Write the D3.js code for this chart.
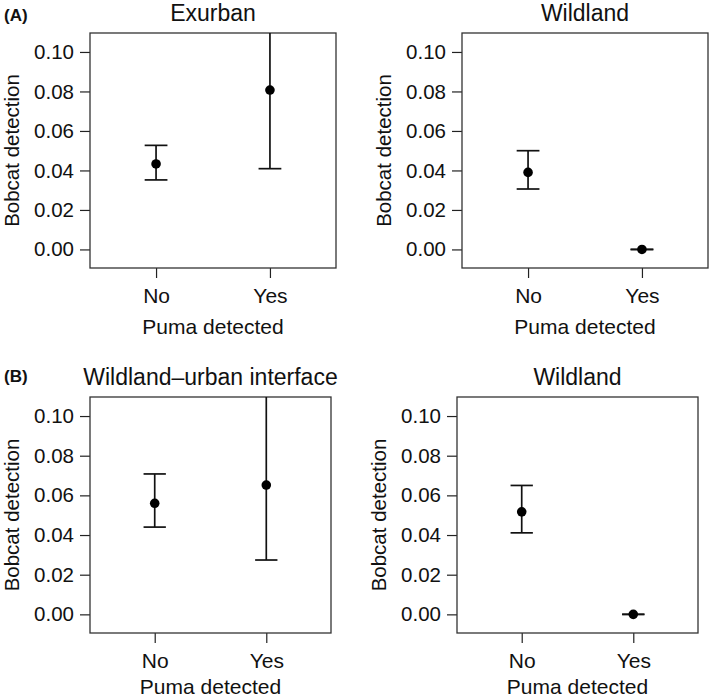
<!DOCTYPE html>
<html>
<head>
<meta charset="utf-8">
<script src="https://cdn.jsdelivr.net/npm/d3@7"></script>
<style>
html,body{margin:0;padding:0;background:#fff;}
svg{display:block;font-family:"Liberation Sans",Arial,Helvetica,sans-serif;}
</style>
</head>
<body>
<div id="chart"></div>
<script>
// ---- data ----
const categories = ["No", "Yes"];
const yTicks = [0.00, 0.02, 0.04, 0.06, 0.08, 0.10];
const panelTitles = ["Exurban", "Wildland", "Wildland\u2013urban interface", "Wildland"];
const panelTags = ["(A)", null, "(B)", null];
const yLabel = "Bobcat detection";
const xLabel = "Puma detected";

const exurbanMean  = [0.0433, 0.0807];
const exurbanLower = [0.0352, 0.0409];
const exurbanUpper = [0.0527, 0.1500];

const wildlandAMean  = [0.0390, 0.0000];
const wildlandALower = [0.0306, 0.0000];
const wildlandAUpper = [0.0500, 0.0000];

const wuiMean  = [0.0560, 0.0652];
const wuiLower = [0.0440, 0.0274];
const wuiUpper = [0.0708, 0.1500];

const wildlandBMean  = [0.0517, 0.0000];
const wildlandBLower = [0.0411, 0.0000];
const wildlandBUpper = [0.0650, 0.0000];

const panelData = [
  {mean: exurbanMean, lower: exurbanLower, upper: exurbanUpper},
  {mean: wildlandAMean, lower: wildlandALower, upper: wildlandAUpper},
  {mean: wuiMean, lower: wuiLower, upper: wuiUpper},
  {mean: wildlandBMean, lower: wildlandBLower, upper: wildlandBUpper}
];

// ---- layout ----
const W = 709, H = 700;
const layout = [
  {x0: 90,  x1: 336, y0: 33,  y1: 268, titleY: 21,  tagY: 21,  xlabY: 334},
  {x0: 462, x1: 708, y0: 33,  y1: 268, titleY: 21,  tagY: 21,  xlabY: 334},
  {x0: 90,  x1: 331, y0: 397, y1: 633, titleY: 385, tagY: 382, xlabY: 694},
  {x0: 457, x1: 698, y0: 397, y1: 633, titleY: 385, tagY: 382, xlabY: 694}
];

const svg = d3.select("#chart").append("svg")
  .attr("width", W).attr("height", H);

const defs = svg.append("defs");

layout.forEach((L, i) => {
  const d = panelData[i];
  const x = d3.scaleLinear().domain([0.42, 2.58]).range([L.x0, L.x1]);
  const y = d3.scaleLinear().domain([-0.0094, 0.1096]).range([L.y1, L.y0]);
  const g = svg.append("g");

  defs.append("clipPath").attr("id", "clip" + i)
    .append("rect").attr("x", L.x0).attr("y", L.y0)
    .attr("width", L.x1 - L.x0).attr("height", L.y1 - L.y0);

  // y axis
  const ya = g.append("g").attr("transform", `translate(${L.x0},0)`)
    .call(d3.axisLeft(y).tickValues(yTicks).tickFormat(d3.format(".2f"))
      .tickSize(10).tickPadding(6));
  ya.select(".domain").remove();
  ya.selectAll("line").attr("stroke", "#222").attr("stroke-width", 1.2);
  ya.selectAll("text").attr("font-size", 20.5).attr("fill", "#111")
    .attr("font-family", "Liberation Sans, Arial, sans-serif");

  // x axis
  const xa = g.append("g").attr("transform", `translate(0,${L.y1})`)
    .call(d3.axisBottom(x).tickValues([1, 2]).tickFormat(v => categories[v - 1])
      .tickSize(10).tickPadding(10));
  xa.select(".domain").remove();
  xa.selectAll("line").attr("stroke", "#222").attr("stroke-width", 1.2);
  xa.selectAll("text").attr("font-size", 21).attr("fill", "#111")
    .attr("font-family", "Liberation Sans, Arial, sans-serif");

  // box
  g.append("rect").attr("x", L.x0).attr("y", L.y0)
    .attr("width", L.x1 - L.x0).attr("height", L.y1 - L.y0)
    .attr("fill", "none").attr("stroke", "#333").attr("stroke-width", 1.3);

  // error bars
  const eb = g.append("g").attr("clip-path", `url(#clip${i})`);
  const capHalf = 0.1;
  categories.forEach((c, k) => {
    const xc = k + 1;
    eb.append("line").attr("x1", x(xc)).attr("x2", x(xc))
      .attr("y1", y(d.lower[k])).attr("y2", y(d.upper[k]))
      .attr("stroke", "#111").attr("stroke-width", 1.7);
    [d.lower[k], d.upper[k]].forEach(v => {
      eb.append("line").attr("x1", x(xc - capHalf)).attr("x2", x(xc + capHalf))
        .attr("y1", y(v)).attr("y2", y(v))
        .attr("stroke", "#111").attr("stroke-width", 1.7);
    });
    eb.append("circle").attr("cx", x(xc)).attr("cy", y(d.mean[k]))
      .attr("r", 4.8).attr("fill", "#000");
  });

  // title
  g.append("text").attr("x", (L.x0 + L.x1) / 2).attr("y", L.titleY)
    .attr("text-anchor", "middle").attr("font-size", 23).attr("fill", "#111")
    .text(panelTitles[i]);

  // axis labels
  g.append("text").attr("x", (L.x0 + L.x1) / 2).attr("y", L.xlabY)
    .attr("text-anchor", "middle").attr("font-size", 21).attr("fill", "#111")
    .text(xLabel);
  g.append("text")
    .attr("transform", `translate(${L.x0 - 71},${(L.y0 + L.y1) / 2}) rotate(-90)`)
    .attr("text-anchor", "middle").attr("font-size", 20.5).attr("fill", "#111")
    .text(yLabel);

  if (panelTags[i]) {
    svg.append("text").attr("x", 4).attr("y", L.tagY)
      .attr("font-size", 17).attr("font-weight", "bold").attr("fill", "#111")
      .text(panelTags[i]);
  }
});
</script>
</body>
</html>
